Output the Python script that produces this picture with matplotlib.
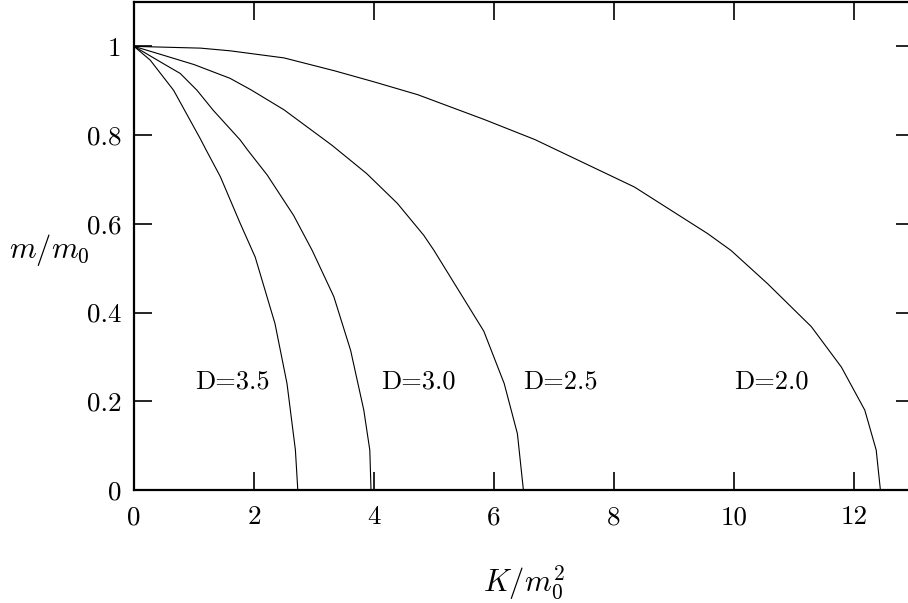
import numpy as np
import matplotlib
matplotlib.use("Agg")
import matplotlib.pyplot as plt

plt.rcParams['font.family'] = ['cmr10', 'DejaVu Serif']
plt.rcParams['mathtext.fontset'] = 'cm'
plt.rcParams['axes.formatter.use_mathtext'] = True

# values
k_d20 = [0, 1.11, 1.60, 2.50, 3.34, 4.00, 4.73, 5.84, 6.68, 8.34, 9.56, 9.95, 10.56, 11.29, 11.79, 12.18, 12.37, 12.44]
m_d20 = [1.0, 0.996, 0.990, 0.974, 0.945, 0.920, 0.891, 0.835, 0.790, 0.683, 0.578, 0.540, 0.465, 0.368, 0.277, 0.180, 0.090, 0.0]

k_d25 = [0, 0.49, 1.00, 1.60, 1.95, 2.50, 3.30, 3.88, 4.39, 4.83, 5.00, 5.83, 6.17, 6.39, 6.49]
m_d25 = [1.0, 0.980, 0.959, 0.928, 0.902, 0.857, 0.777, 0.713, 0.646, 0.574, 0.540, 0.358, 0.240, 0.127, 0.0]

k_d30 = [0, 0.49, 0.77, 1.05, 1.32, 1.77, 1.89, 2.22, 2.66, 2.97, 3.33, 3.61, 3.83, 3.93, 3.95]
m_d30 = [1.0, 0.961, 0.939, 0.901, 0.856, 0.789, 0.767, 0.710, 0.619, 0.540, 0.436, 0.315, 0.180, 0.090, 0.0]

k_d35 = [0, 0.27, 0.66, 1.10, 1.20, 1.44, 1.77, 2.02, 2.35, 2.55, 2.69, 2.73]
m_d35 = [1.0, 0.969, 0.901, 0.793, 0.767, 0.706, 0.601, 0.525, 0.375, 0.240, 0.090, 0.0]

labels = ["D=3.5", "D=3.0", "D=2.5", "D=2.0"]
label_k = [1.02, 4.12, 6.49, 10.0]
label_m = 0.245

xticks = [0, 2, 4, 6, 8, 10, 12]
yticks = [0, 0.2, 0.4, 0.6, 0.8, 1]
ytick_labels = ["0", "0.2", "0.4", "0.6", "0.8", "1"]

fig = plt.figure(figsize=(9.08, 6.03), dpi=100)
ax = fig.add_axes([134 / 908, 113 / 603, 780 / 908, 488 / 603])

for k, m in [(k_d20, m_d20), (k_d25, m_d25), (k_d30, m_d30), (k_d35, m_d35)]:
    ax.plot(k, m, color="black", lw=0.8)

for lab, xk in zip(labels, label_k):
    ax.text(xk, label_m, lab, fontsize=19, ha="left", va="center")

ax.set_xlim(0, 13)
ax.set_ylim(0, 1.1)
ax.set_xticks(xticks)
ax.set_xticklabels([str(t) for t in xticks])
ax.set_yticks(yticks)
ax.set_yticklabels(ytick_labels)
ax.tick_params(direction="in", length=13, width=1.2, top=True, right=True, labelsize=19.5)
ax.tick_params(axis="x", pad=11)
ax.tick_params(axis="y", pad=9)
for s in ax.spines.values():
    s.set_linewidth(1.6)

ax.set_xlabel(r"$K/m_0^2$", fontsize=22)
ax.xaxis.set_label_coords(0.5, -0.19)
ax.xaxis.label.set_va("center")
ax.set_ylabel(r"$m/m_0$", fontsize=22, rotation=0)
ax.yaxis.set_label_coords(-0.108, 0.492)
ax.yaxis.label.set_va("center")
ax.yaxis.label.set_ha("center")

fig.savefig("out.png", dpi=100)
